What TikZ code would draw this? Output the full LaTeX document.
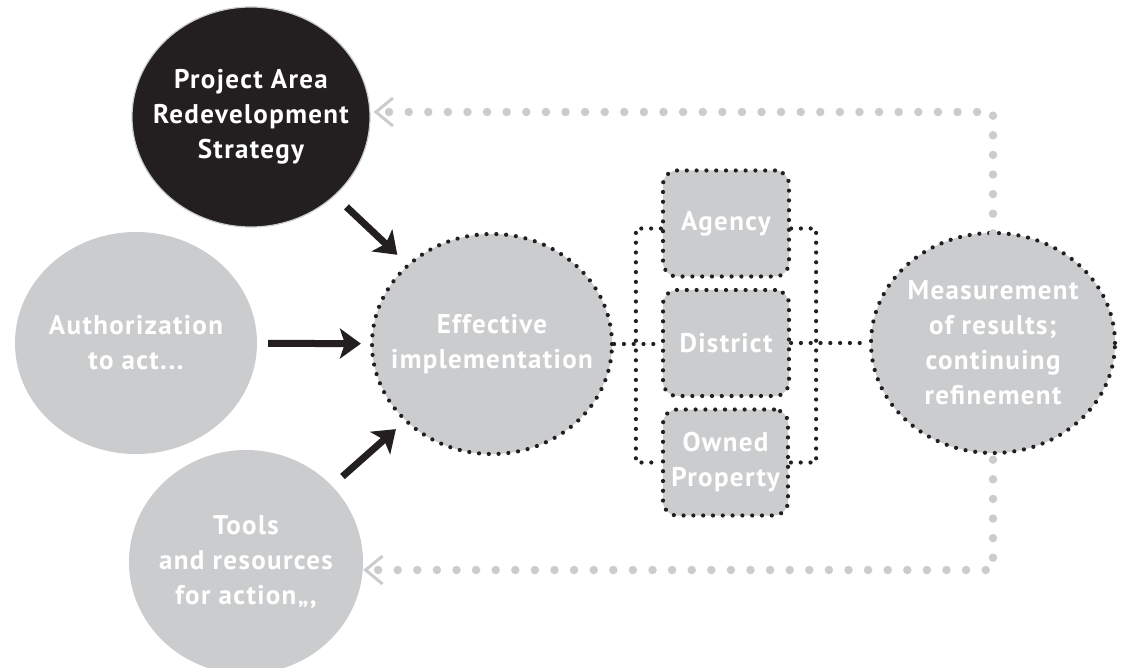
\documentclass[tikz,border=0pt]{standalone}
\usepackage{fontspec}
\setmainfont[LetterSpace=5]{PT Sans}
\usetikzlibrary{shapes.geometric,arrows.meta}
\definecolor{lg}{HTML}{CBCCCE}
\definecolor{dk}{HTML}{231F20}
\begin{document}
\begin{tikzpicture}[x=1pt,y=-1pt,
  lbl/.style={text=white,font=\bfseries\fontsize{27}{35}\selectfont,align=center,inner sep=0pt},
  blob/.style={ellipse,fill=lg,inner sep=0pt},
  dotb/.style={draw=dk,line width=4.2pt,line cap=round,dash pattern=on 0pt off 9.8pt},
  box/.style={rectangle,rounded corners=14pt,fill=lg,inner sep=0pt,lbl,dotb,minimum width=126pt,minimum height=106pt},
  gdots/.style={draw=lg,line width=8.5pt,line cap=round,dash pattern=on 0pt off 19.6pt,
    -{Straight Barb[length=17pt,width=28pt,line width=3pt 0 0,color=lg]}},
  arr/.style={draw=dk,line width=7pt,-{Stealth[length=21pt,width=30pt,inset=5pt]}}
]
\clip (0,0) rectangle (1122,668);
\fill[white] (0,0) rectangle (1122,668);

\node[blob,fill=dk,draw=lg,line width=1.2pt,minimum width=238pt,minimum height=220pt] (pars) at (251,117) {};
\node[lbl] (parst) at (pars) {Project Area\\Redevelopment\\Strategy};
\node[blob,minimum width=242pt,minimum height=222pt] (auth) at (136,343) {};
\node[lbl] (autht) at (auth) {Authorization\\to act...};
\node[blob,minimum width=234pt,minimum height=224pt] (tools) at (246,562) {};
\node[lbl] (toolst) at (tools) {Tools\\and resources\\for action,,,};
\node[blob,dotb,minimum width=240pt,minimum height=220pt] (eff) at (492,344) {};
\node[lbl] (efft) at (eff) {Effective\\implementation};
\node[blob,dotb,minimum width=244pt,minimum height=220pt] (meas) at (993,343) {};
\node[lbl] (meast) at (meas) {Measurement\\of results;\\continuing\\refinement};

\node[box] (agency) at (726,223.5) {Agency};
\node[box] (district) at (726,343) {District};
\node[box,minimum width=125pt] (owned) at (725.5,462.5) {Owned\\Property};

% bracket
\draw[dotb] ([yshift=-5pt]agency.west) -- ++(-25,0) |- (owned.west);
\draw[dotb] ([yshift=-5pt]agency.east) -- ++(25,0) |- (owned.east);
% connectors
\draw[dotb] (eff.east) -- (eff.east -| district.west);
\draw[dotb] (district.east) -- (district.east -| meas.west);

% black arrows
\draw[arr,shorten <=16pt,shorten >=13pt] (pars) -- (eff);
\draw[arr,shorten <=11pt,shorten >=9pt] (auth) -- (eff);
\draw[arr,shorten <=14pt,shorten >=11pt] (tools) -- (eff);

% feedback
\coordinate (c1) at (993,112);
\coordinate (c2) at (993,570);
\draw[gdots] ([yshift=-22pt]meas.north) -- (c1) -- ([xshift=3pt]c1 -| pars.east);
\draw[gdots] ([yshift=15pt]meas.south) -- (c2) -- (c2 -| tools.east);
\end{tikzpicture}
\end{document}
